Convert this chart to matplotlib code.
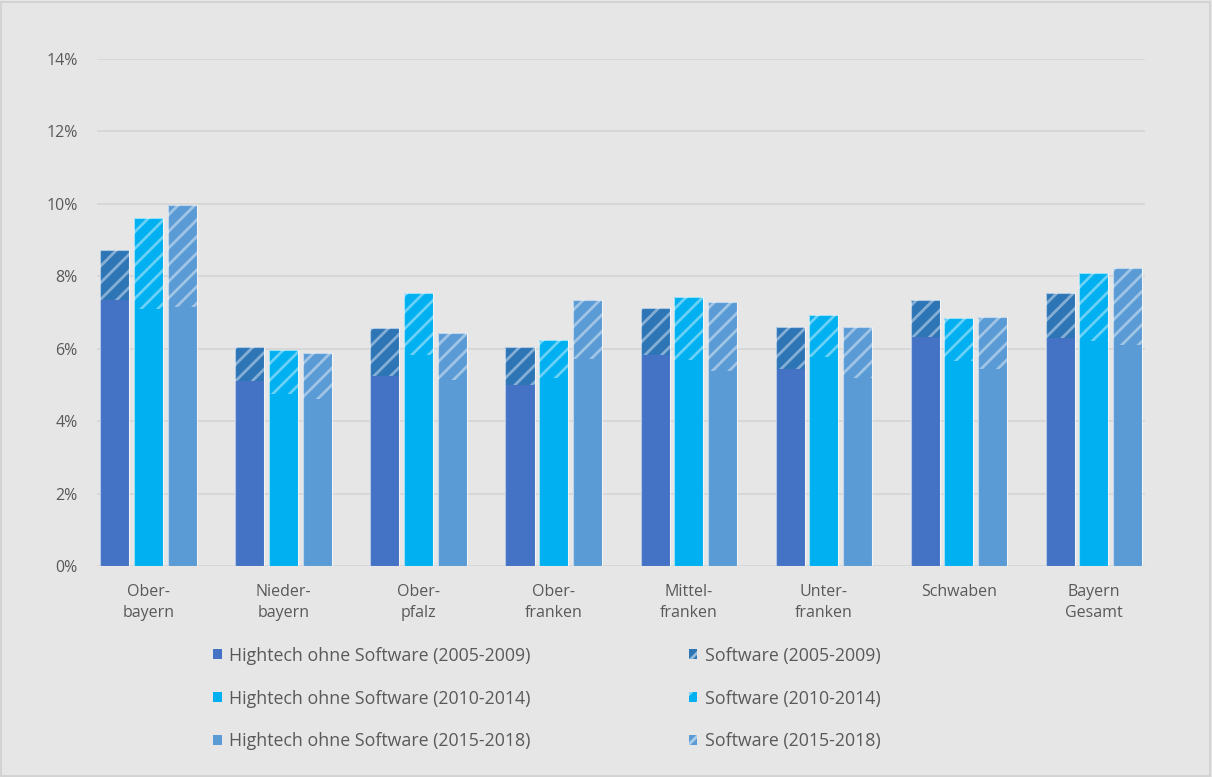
import matplotlib.pyplot as plt
import matplotlib.patches as mpatches
import numpy as np

regions = ["Ober-\nbayern", "Nieder-\nbayern", "Ober-\npfalz", "Ober-\nfranken",
           "Mittel-\nfranken", "Unter-\nfranken", "Schwaben", "Bayern\nGesamt"]
periods = ["2005-2009", "2010-2014", "2015-2018"]

# share without software (%), per period
hightech_0509 = [7.35, 5.11, 5.25, 5.00, 5.83, 5.43, 6.33, 6.29]
hightech_1014 = [7.10, 4.74, 5.83, 5.18, 5.69, 5.78, 5.66, 6.21]
hightech_1518 = [7.14, 4.62, 5.14, 5.71, 5.37, 5.18, 5.43, 6.10]
# total incl. software (%)
total_0509 = [8.73, 6.06, 6.57, 6.06, 7.12, 6.61, 7.35, 7.53]
total_1014 = [9.60, 5.96, 7.54, 6.24, 7.44, 6.93, 6.84, 8.08]
total_1518 = [9.97, 5.87, 6.43, 7.35, 7.30, 6.61, 6.88, 8.22]

base_cols = ["#4472C4", "#00B0F0", "#5B9BD5"]
hatch_cols = ["#2E75B6", "#00B0F0", "#5B9BD5"]
bg = "#e6e6e6"
txt = "#595959"

plt.rcParams['font.family'] = ['Open Sans', 'DejaVu Sans']
plt.rcParams['hatch.linewidth'] = 2.0

fig = plt.figure(figsize=(12.12, 7.77), dpi=100, facecolor=bg)
fig.patches.append(mpatches.Rectangle((0.001, 0.001), 0.997, 0.997, transform=fig.transFigure,
                                      fill=False, edgecolor="#d0d0d0", linewidth=1.2))
ax = fig.add_axes([0.0800, 0.2716, 0.8647, 0.6525])
ax.set_facecolor(bg)

x = np.arange(len(regions))
bw = 0.215
step = 0.249
hts = [hightech_0509, hightech_1014, hightech_1518]
tots = [total_0509, total_1014, total_1518]
for i in range(3):
    xs = x + (i - 1) * step
    sw = np.array(tots[i]) - np.array(hts[i])
    ax.bar(xs, hts[i], bw, color=base_cols[i], linewidth=0, zorder=3)
    ax.bar(xs, sw, bw, bottom=hts[i], color=hatch_cols[i], edgecolor=(1, 1, 1, 0.42),
           hatch='//', linewidth=0, zorder=3)
    ax.bar(xs, tots[i], bw, fill=False, edgecolor=(1, 1, 1, 0.6), linewidth=0.8, zorder=4)

ax.set_ylim(0, 14)
ax.set_xlim(-0.381, 7.378)
ax.set_yticks(np.arange(0, 15, 2))
ax.set_yticklabels([f"{v}%" for v in range(0, 15, 2)], color=txt, fontsize=11.5)
ax.set_xticks(x)
ax.set_xticklabels(regions, color=txt, fontsize=11.5, linespacing=1.45, va='top')
ax.tick_params(axis='both', length=0)
ax.tick_params(axis='y', pad=14)
ax.tick_params(axis='x', pad=13)
ax.grid(axis='y', color="#d5d5d5", linewidth=1.2, zorder=0)
for s in ax.spines.values():
    s.set_visible(False)

handles = []
labels = []
for i in range(3):
    handles.append(mpatches.Patch(facecolor=base_cols[i], linewidth=0))
    labels.append(f"Hightech ohne Software ({periods[i]})")
for i in range(3):
    handles.append(mpatches.Patch(facecolor=hatch_cols[i], edgecolor=(1, 1, 1, 0.5),
                                  hatch='//', linewidth=0))
    labels.append(f"Software ({periods[i]})")
leg = fig.legend(handles, labels, ncol=2, loc='center', bbox_to_anchor=(0.451, 0.101),
                 frameon=False, fontsize=12.8, handlelength=0.5, handleheight=0.5,
                 handletextpad=0.4, labelspacing=1.4, columnspacing=8.9)
for t in leg.get_texts():
    t.set_color(txt)

fig.savefig("out.png", dpi=100, facecolor=bg)
